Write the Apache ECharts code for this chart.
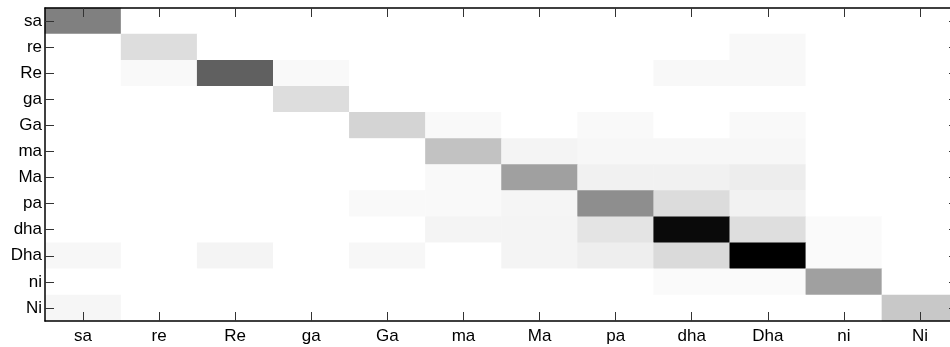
<!DOCTYPE html>
<html>
<head>
<meta charset="utf-8">
<script src="https://cdn.jsdelivr.net/npm/echarts@6/dist/echarts.min.js"></script>
<style>
html,body{margin:0;padding:0;background:#fff;}
#chart{width:950px;height:347px;}
</style>
</head>
<body>
<div id="chart"></div>
<script>
// Categories (swaras)
const xCategories = ['sa','re','Re','ga','Ga','ma','Ma','pa','dha','Dha','ni','Ni'];
const yCategories = ['sa','re','Re','ga','Ga','ma','Ma','pa','dha','Dha','ni','Ni'];

// Intensity values (0 = white, 255 = black), one row per y category
const rowSa  = [127,0,0,0,0,0,0,0,0,0,0,0];
const rowre  = [0,34,0,0,0,0,0,0,0,7,0,0];
const rowRe  = [0,6,159,6,0,0,0,0,7,7,0,0];
const rowga  = [0,0,0,34,0,0,0,0,0,0,0,0];
const rowGa  = [0,0,0,0,43,6,0,6,0,6,0,0];
const rowma  = [0,0,0,0,0,61,11,8,8,8,0,0];
const rowMa  = [0,0,0,0,0,6,95,14,14,18,0,0];
const rowpa  = [0,0,0,0,6,6,10,113,35,13,0,0];
const rowdha = [0,0,0,0,0,11,11,27,245,33,5,0];
const rowDha = [8,0,11,0,8,0,11,17,37,255,5,0];
const rowni  = [0,0,0,0,0,0,0,0,5,5,95,0];
const rowNi  = [9,0,0,0,0,0,0,0,0,0,0,55];
const rows = [rowSa,rowre,rowRe,rowga,rowGa,rowma,rowMa,rowpa,rowdha,rowDha,rowni,rowNi];

const data = [];
rows.forEach((r, yi) => r.forEach((v, xi) => data.push([xi, yi, v])));

const font = '"Liberation Sans", Arial, sans-serif';
const chart = echarts.init(document.getElementById('chart'), null, {renderer: 'canvas'});
chart.setOption({
  animation: false,
  backgroundColor: '#ffffff',
  grid: {left: 45, top: 8, width: 913, height: 313, outerBoundsMode: 'none', containLabel: false},
  xAxis: [
    {
      type: 'category', data: xCategories, position: 'bottom', z: 10,
      axisLine: {show: true, lineStyle: {color: '#000', width: 1.5}},
      axisTick: {show: true, inside: true, alignWithLabel: true, length: 9, lineStyle: {color: '#333'}},
      axisLabel: {color: '#000', fontSize: 17, fontFamily: font, margin: 7},
      splitLine: {show: false}
    },
    {
      type: 'category', data: xCategories, position: 'top', z: 10,
      axisLine: {show: true, lineStyle: {color: '#000', width: 1.5}},
      axisTick: {show: true, inside: true, alignWithLabel: true, length: 9, lineStyle: {color: '#333'}},
      axisLabel: {show: false},
      splitLine: {show: false}
    }
  ],
  yAxis: [
    {
      type: 'category', data: yCategories, inverse: true, position: 'left', z: 10,
      axisLine: {show: true, lineStyle: {color: '#000', width: 1.5}},
      axisTick: {show: true, inside: true, alignWithLabel: true, length: 9, lineStyle: {color: '#333'}},
      axisLabel: {color: '#000', fontSize: 17, fontFamily: font, margin: 3},
      splitLine: {show: false}
    },
    {
      type: 'category', data: yCategories, inverse: true, position: 'right', z: 10,
      axisLine: {show: true, lineStyle: {color: '#000', width: 1.5}},
      axisTick: {show: true, inside: true, alignWithLabel: true, length: 9, lineStyle: {color: '#333'}},
      axisLabel: {show: false},
      splitLine: {show: false}
    }
  ],
  visualMap: {
    show: false, type: 'continuous', min: 0, max: 255, dimension: 2,
    inRange: {color: ['#ffffff', '#000000']}
  },
  series: [{
    type: 'heatmap',
    data: data,
    xAxisIndex: 0,
    yAxisIndex: 0,
    itemStyle: {borderWidth: 0},
    emphasis: {disabled: true}
  }]
});
</script>
</body>
</html>
